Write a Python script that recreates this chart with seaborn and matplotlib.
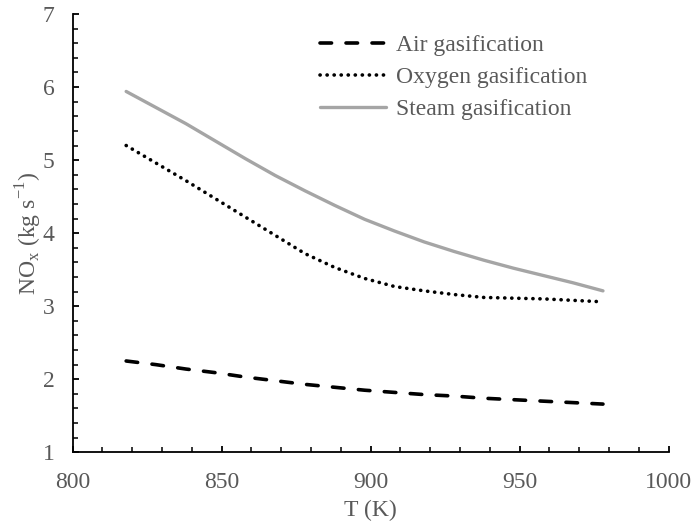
import matplotlib
matplotlib.use("Agg")
import matplotlib.pyplot as plt
from matplotlib.ticker import MultipleLocator
import numpy as np
import pandas as pd
import seaborn as sns

# Gasifier temperature (K)
temperature = [818, 828, 838, 848, 858, 868, 878, 888, 898,
               908, 918, 928, 938, 948, 958, 968, 978]

# NOx emission rate (kg s-1) for each gasifying agent
nox_air = [2.25, 2.20, 2.14, 2.09, 2.03, 1.98, 1.93, 1.89, 1.85,
           1.82, 1.79, 1.77, 1.74, 1.72, 1.70, 1.68, 1.66]
nox_oxygen = [5.20, 4.96, 4.72, 4.47, 4.22, 3.97, 3.72, 3.53, 3.38,
              3.27, 3.21, 3.16, 3.12, 3.11, 3.10, 3.08, 3.06]
nox_steam = [5.94, 5.72, 5.50, 5.26, 5.02, 4.79, 4.58, 4.38, 4.19,
             4.03, 3.88, 3.75, 3.63, 3.52, 3.42, 3.32, 3.21]

series_names = ["Air gasification", "Oxygen gasification", "Steam gasification"]

x_ticks = [800, 850, 900, 950, 1000]
y_ticks = [1, 2, 3, 4, 5, 6, 7]

df = pd.DataFrame({
    "T": temperature * 3,
    "NOx": nox_air + nox_oxygen + nox_steam,
    "Agent": [series_names[0]] * len(temperature)
             + [series_names[1]] * len(temperature)
             + [series_names[2]] * len(temperature),
})

sns.set_theme(style="white")
plt.rcParams["font.family"] = ["Liberation Serif", "DejaVu Serif"]
plt.rcParams["mathtext.fontset"] = "custom"
plt.rcParams["mathtext.rm"] = "Liberation Serif"

text_color = "#595959"
fs = 17

fig = plt.figure(figsize=(6.94, 5.29), dpi=100)
ax = fig.add_axes([0.1045, 0.145, 0.8588, 0.8285])

styles = {
    series_names[0]: dict(color="black", linewidth=2.6, dashes=(3.2, 4.0),
                          dash_capstyle="round"),
    series_names[1]: dict(color="black", linewidth=2.6, dashes=(0.05, 1.9),
                          dash_capstyle="round"),
    series_names[2]: dict(color="#A5A5A5", linewidth=2.4),
}

for name in series_names:
    sub = df[df["Agent"] == name]
    st = styles[name]
    sns.lineplot(data=sub, x="T", y="NOx", ax=ax, label=name,
                 color=st["color"], linewidth=st["linewidth"],
                 dashes=False, estimator=None, sort=True)
    line = ax.lines[-1]
    if "dashes" in st:
        line.set_dashes(st["dashes"])
        line.set_dash_capstyle(st["dash_capstyle"])

ax.set_xlim(800, 1000)
ax.set_ylim(1, 7)
ax.set_xticks(x_ticks)
ax.set_yticks(y_ticks)
ax.xaxis.set_minor_locator(MultipleLocator(10))
ax.yaxis.set_minor_locator(MultipleLocator(0.2))

for side in ["top", "right"]:
    ax.spines[side].set_visible(False)
for side in ["left", "bottom"]:
    ax.spines[side].set_color("black")
    ax.spines[side].set_linewidth(1.3)

ax.tick_params(axis="both", which="major", direction="in", length=4.5,
               width=1.3, color="black", labelsize=fs, labelcolor=text_color,
               left=True, bottom=True)
ax.tick_params(axis="both", which="minor", direction="in", length=3.3,
               width=1.1, color="black", left=True, bottom=True)
ax.tick_params(axis="y", which="major", pad=13)
ax.tick_params(axis="x", which="major", pad=14)

ax.set_xlabel("T (K)", fontsize=fs, color=text_color, labelpad=5)
ax.set_ylabel(r"NO$_\mathregular{x}$ (kg s$^\mathregular{-1}$)", fontsize=fs,
              color=text_color, labelpad=-1)

leg = ax.legend(loc="upper left", bbox_to_anchor=(0.40, 0.975), frameon=False,
                fontsize=fs, handlelength=2.8, handletextpad=0.4,
                labelspacing=0.45, borderaxespad=0)
for t in leg.get_texts():
    t.set_color(text_color)

ax.grid(False)
fig.savefig("out.png", dpi=100)
